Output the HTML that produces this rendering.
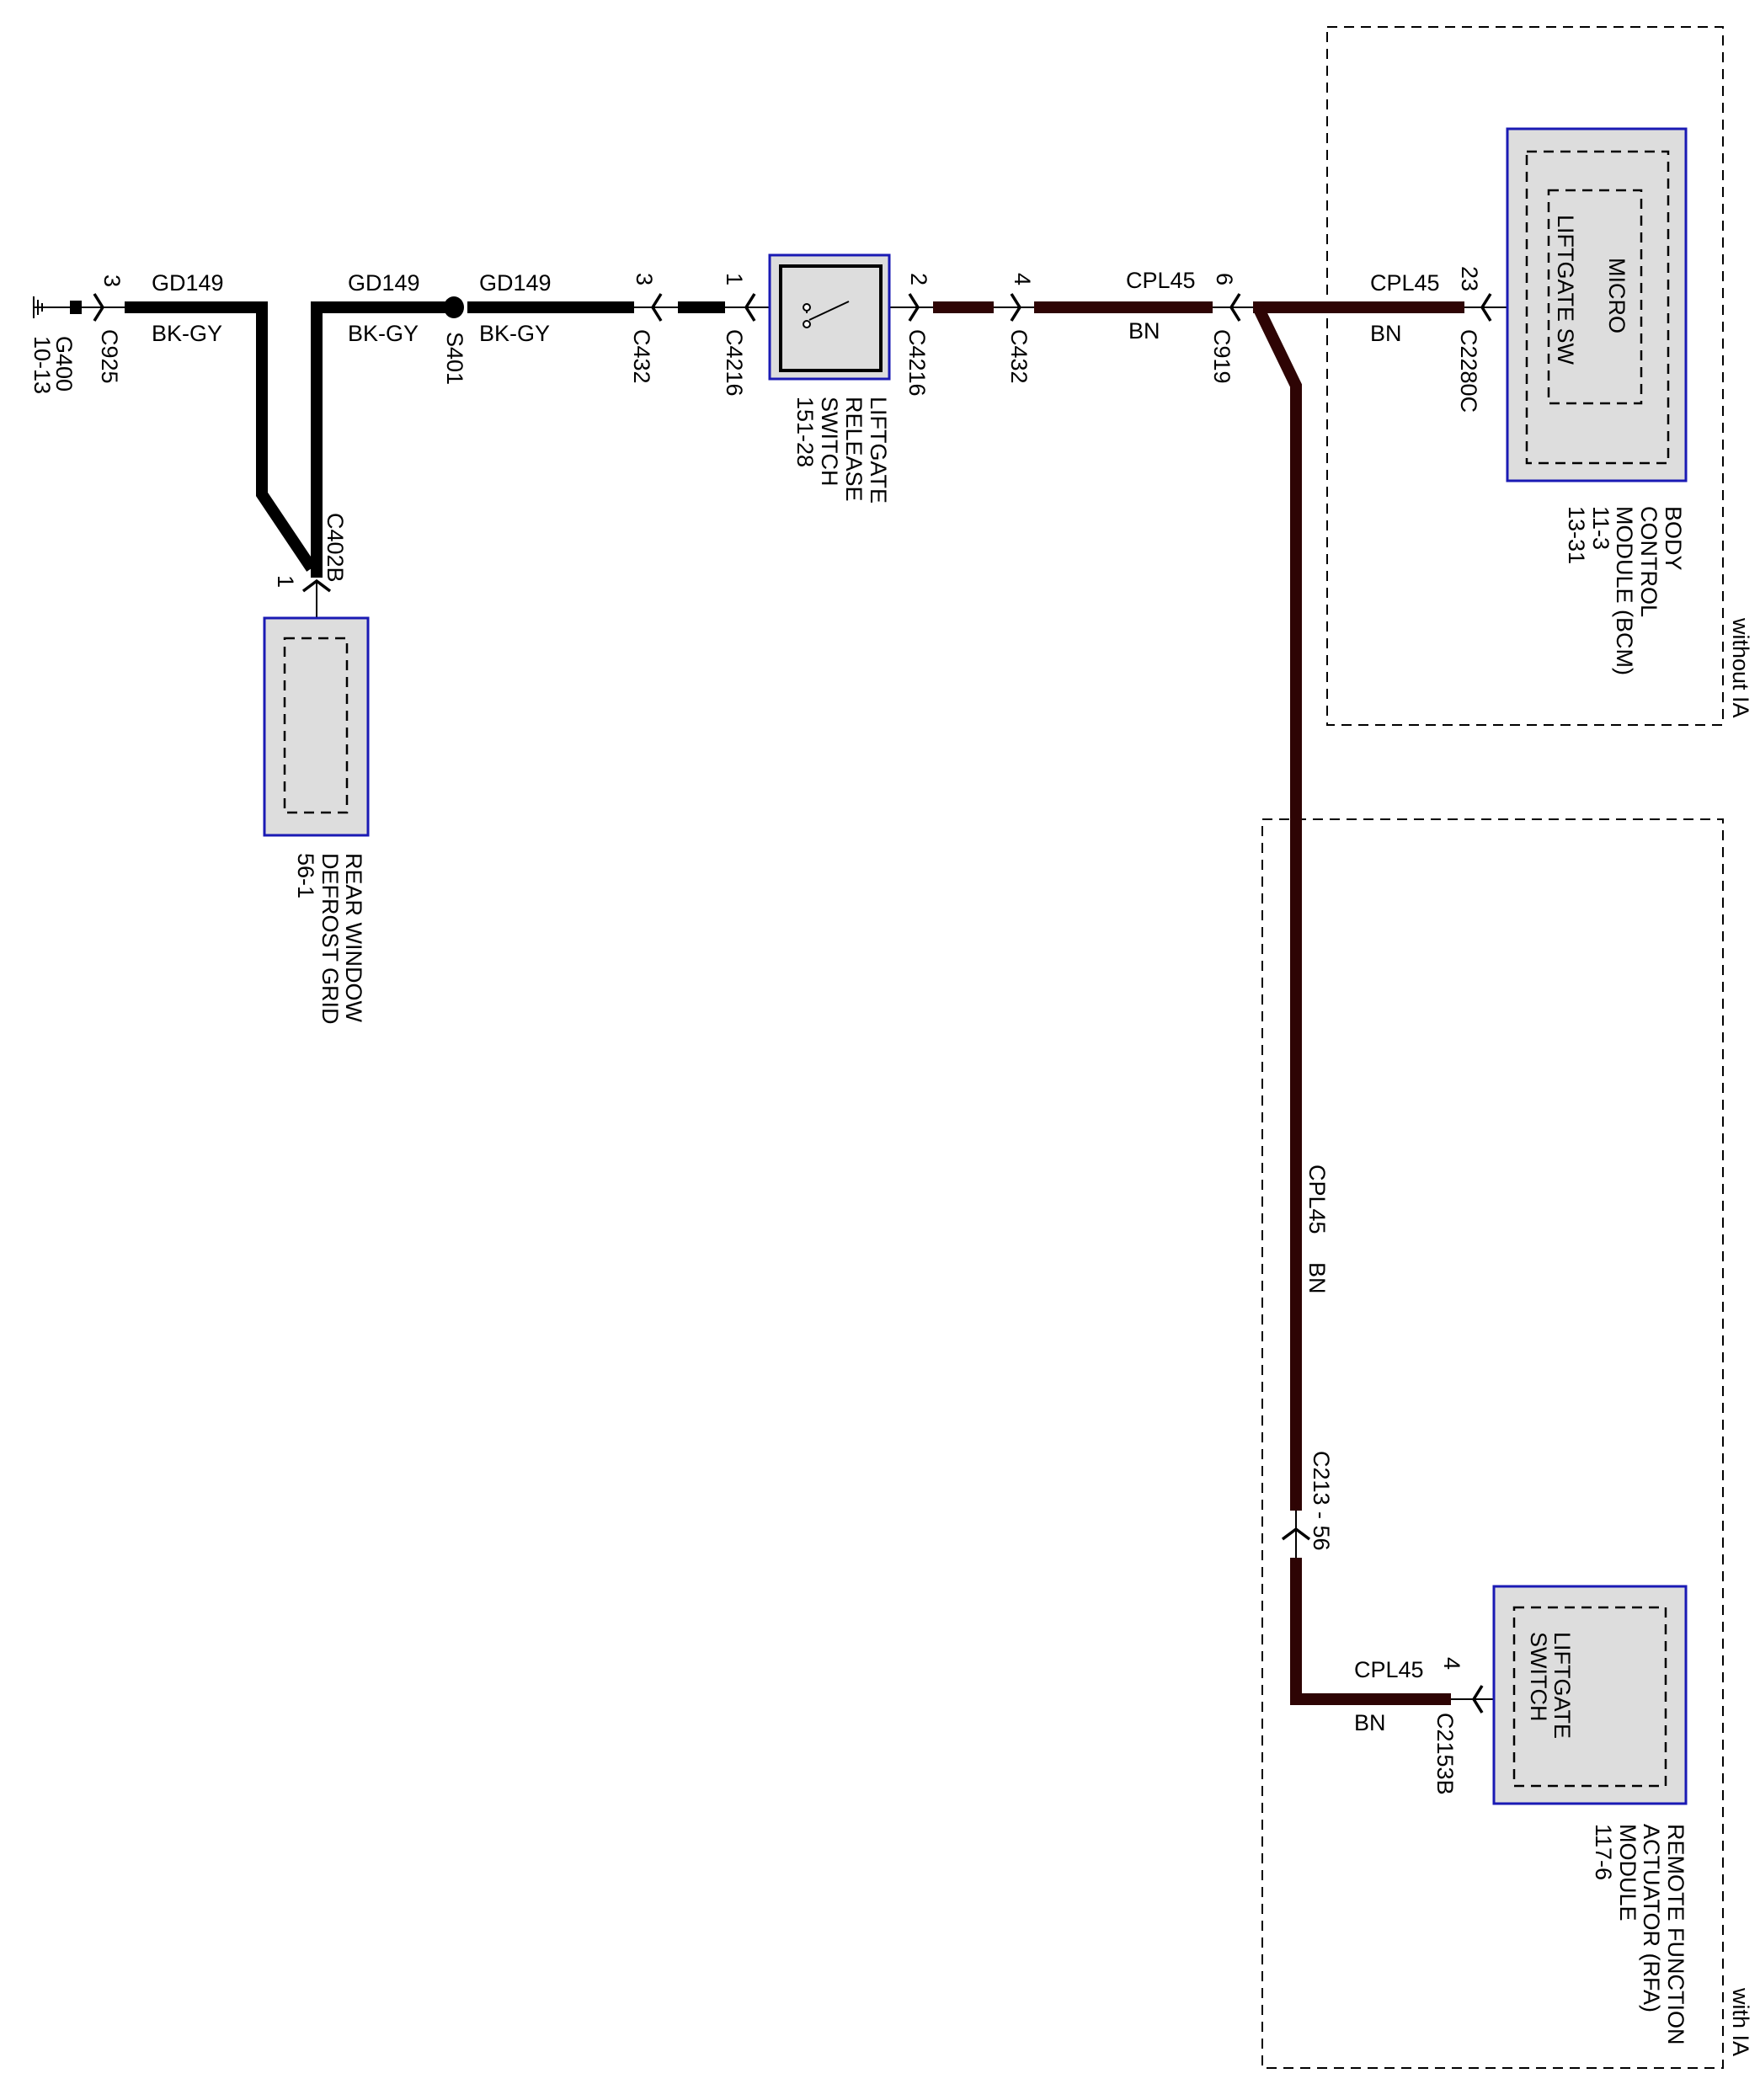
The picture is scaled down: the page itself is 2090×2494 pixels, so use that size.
<!DOCTYPE html>
<html><head><meta charset="utf-8"><style>
html,body{margin:0;padding:0;background:#fff;}
svg{display:block;}
text{font-family:"Liberation Sans",Arial,sans-serif;font-size:27px;fill:#000;}
</style></head><body>
<svg width="2090" height="2494" viewBox="0 0 2090 2494" xmlns="http://www.w3.org/2000/svg">
<rect x="1576" y="32" width="470" height="829" fill="none" stroke="#000" stroke-width="2" stroke-dasharray="12,8"/>
<rect x="1499" y="973" width="547" height="1483" fill="none" stroke="#000" stroke-width="2" stroke-dasharray="12,8"/>

<g stroke="#000" stroke-width="2" fill="none">
<line x1="40" y1="352" x2="40" y2="378"/><line x1="45" y1="356" x2="45" y2="374"/><line x1="50" y1="360" x2="50" y2="370"/>
<line x1="40" y1="365" x2="120" y2="365"/>
</g>
<rect x="83" y="357" width="14" height="16" fill="#000"/>

<g stroke="#000" stroke-width="14" fill="none" stroke-linejoin="miter">
<polyline points="148,365 311,365 311,587 370,675"/>
<polyline points="376,686 376,365 533,365"/>
<line x1="555" y1="365" x2="753" y2="365"/>
<line x1="805" y1="365" x2="861" y2="365"/>
</g>
<ellipse cx="539" cy="365" rx="12" ry="13" fill="#000"/>
<line x1="376" y1="690" x2="376" y2="734" stroke="#000" stroke-width="2"/>
<line x1="120" y1="365" x2="148" y2="365" stroke="#000" stroke-width="2"/>
<line x1="753" y1="365" x2="805" y2="365" stroke="#000" stroke-width="2"/>
<line x1="861" y1="365" x2="927" y2="365" stroke="#000" stroke-width="2"/>

<g stroke="#2e0404" stroke-width="14" fill="none">
<line x1="1108" y1="365" x2="1180" y2="365"/>
<line x1="1228" y1="365" x2="1440" y2="365"/>
<line x1="1488" y1="365" x2="1739" y2="365"/>
<polyline points="1494,365 1539,458 1539,1794"/>
<polyline points="1539,1850 1539,2018 1723,2018"/>
</g>
<g stroke="#000" stroke-width="2" fill="none">
<line x1="1046" y1="365" x2="1108" y2="365"/>
<line x1="1180" y1="365" x2="1228" y2="365"/>
<line x1="1440" y1="365" x2="1488" y2="365"/>
<polyline points="1739,365 1839,365 1839,380"/>
<line x1="1539" y1="1794" x2="1539" y2="1850"/>
<line x1="1723" y1="2018" x2="1774" y2="2018"/>
</g>

<g stroke="#000" stroke-width="3.5" fill="none">
<polyline points="112,349 122,365 112,381"/>
<polyline points="785,349 775,365 785,381"/>
<polyline points="896,349 886,365 896,381"/>
<polyline points="1080,349 1090,365 1080,381"/>
<polyline points="1201,349 1211,365 1201,381"/>
<polyline points="1472,349 1462,365 1472,381"/>
<polyline points="1770,349 1760,365 1770,381"/>
<polyline points="1523,1828 1539,1816 1555,1828"/>
<polyline points="1760,2002 1750,2018 1760,2034"/>
<polyline points="360,702 376,690 392,702"/>
</g>

<rect x="914" y="303" width="142" height="147" fill="#ddd" stroke="#1a1ab4" stroke-width="3"/>
<rect x="927" y="316" width="119" height="124" fill="#ddd" stroke="#000" stroke-width="4"/>
<g stroke="#000" stroke-width="2" fill="#fff">
<line x1="961" y1="380" x2="1008" y2="358"/>
<line x1="958" y1="365" x2="958" y2="372"/>
<circle cx="958" cy="365" r="4"/><circle cx="958" cy="385" r="4"/>
</g>

<rect x="1790" y="153" width="212" height="418" fill="#ddd" stroke="#1a1ab4" stroke-width="3"/>
<rect x="1813" y="180" width="168" height="370" fill="none" stroke="#000" stroke-width="2.5" stroke-dasharray="12,8"/>
<rect x="1839" y="226" width="110" height="253" fill="none" stroke="#000" stroke-width="2.5" stroke-dasharray="12,8"/>

<rect x="1774" y="1884" width="228" height="258" fill="#ddd" stroke="#1a1ab4" stroke-width="3"/>
<rect x="1798" y="1909" width="180" height="212" fill="none" stroke="#000" stroke-width="2.5" stroke-dasharray="12,8"/>

<rect x="314" y="734" width="123" height="258" fill="#ddd" stroke="#1a1ab4" stroke-width="3"/>
<rect x="338" y="758" width="74" height="207" fill="none" stroke="#000" stroke-width="2.5" stroke-dasharray="12,8"/>

<text x="180" y="345">GD149</text><text x="180" y="405">BK-GY</text>
<text x="413" y="345">GD149</text><text x="413" y="405">BK-GY</text>
<text x="569" y="345">GD149</text><text x="569" y="405">BK-GY</text>
<text x="1337" y="342">CPL45</text><text x="1340" y="402">BN</text>
<text x="1627" y="345">CPL45</text><text x="1627" y="405">BN</text>
<text x="1608" y="1992">CPL45</text><text x="1608" y="2055">BN</text>

<g>
<text transform="translate(121,391) rotate(90)">C925</text>
<text transform="translate(124,326) rotate(90)">3</text>
<text transform="translate(67,399) rotate(90)">G400</text>
<text transform="translate(41,399) rotate(90)">10-13</text>
<text transform="translate(531,394) rotate(90)">S401</text>
<text transform="translate(753,391) rotate(90)">C432</text>
<text transform="translate(756,324) rotate(90)">3</text>
<text transform="translate(863,391) rotate(90)">C4216</text>
<text transform="translate(863,324) rotate(90)">1</text>
<text transform="translate(1034,471) rotate(90)">LIFTGATE</text>
<text transform="translate(1005,471) rotate(90)">RELEASE</text>
<text transform="translate(976,471) rotate(90)">SWITCH</text>
<text transform="translate(947,471) rotate(90)">151-28</text>
<text transform="translate(1080,391) rotate(90)">C4216</text>
<text transform="translate(1082,324) rotate(90)">2</text>
<text transform="translate(1201,391) rotate(90)">C432</text>
<text transform="translate(1205,324) rotate(90)">4</text>
<text transform="translate(1442,391) rotate(90)">C919</text>
<text transform="translate(1445,324) rotate(90)">6</text>
<text transform="translate(1735,391) rotate(90)">C2280C</text>
<text transform="translate(1736,316) rotate(90)">23</text>
<text transform="translate(1911,306) rotate(90)">MICRO</text>
<text transform="translate(1850,255) rotate(90)">LIFTGATE SW</text>
<text transform="translate(1978,601) rotate(90)">BODY</text>
<text transform="translate(1949,601) rotate(90)">CONTROL</text>
<text transform="translate(1920,601) rotate(90)">MODULE (BCM)</text>
<text transform="translate(1892,601) rotate(90)">11-3</text>
<text transform="translate(1863,601) rotate(90)">13-31</text>
<text transform="translate(2058,734) rotate(90)">without IA</text>
<text transform="translate(2058,2361) rotate(90)">with IA</text>
<text transform="translate(389,609) rotate(90)">C402B</text>
<text transform="translate(330,683) rotate(90)">1</text>
<text transform="translate(411,1013) rotate(90)">REAR WINDOW</text>
<text transform="translate(383,1013) rotate(90)">DEFROST GRID</text>
<text transform="translate(354,1013) rotate(90)">56-1</text>
<text transform="translate(1555,1383) rotate(90)">CPL45</text>
<text transform="translate(1555,1499) rotate(90)">BN</text>
<text transform="translate(1560,1723) rotate(90)">C213  -  56</text>
<text transform="translate(1715,1968) rotate(90)">4</text>
<text transform="translate(1707,2034) rotate(90)">C2153B</text>
<text transform="translate(1846,1938) rotate(90)">LIFTGATE</text>
<text transform="translate(1818,1938) rotate(90)">SWITCH</text>
<text transform="translate(1981,2166) rotate(90)">REMOTE FUNCTION</text>
<text transform="translate(1952,2166) rotate(90)">ACTUATOR (RFA)</text>
<text transform="translate(1924,2166) rotate(90)">MODULE</text>
<text transform="translate(1895,2166) rotate(90)">117-6</text>
</g>
</svg>
</body></html>
